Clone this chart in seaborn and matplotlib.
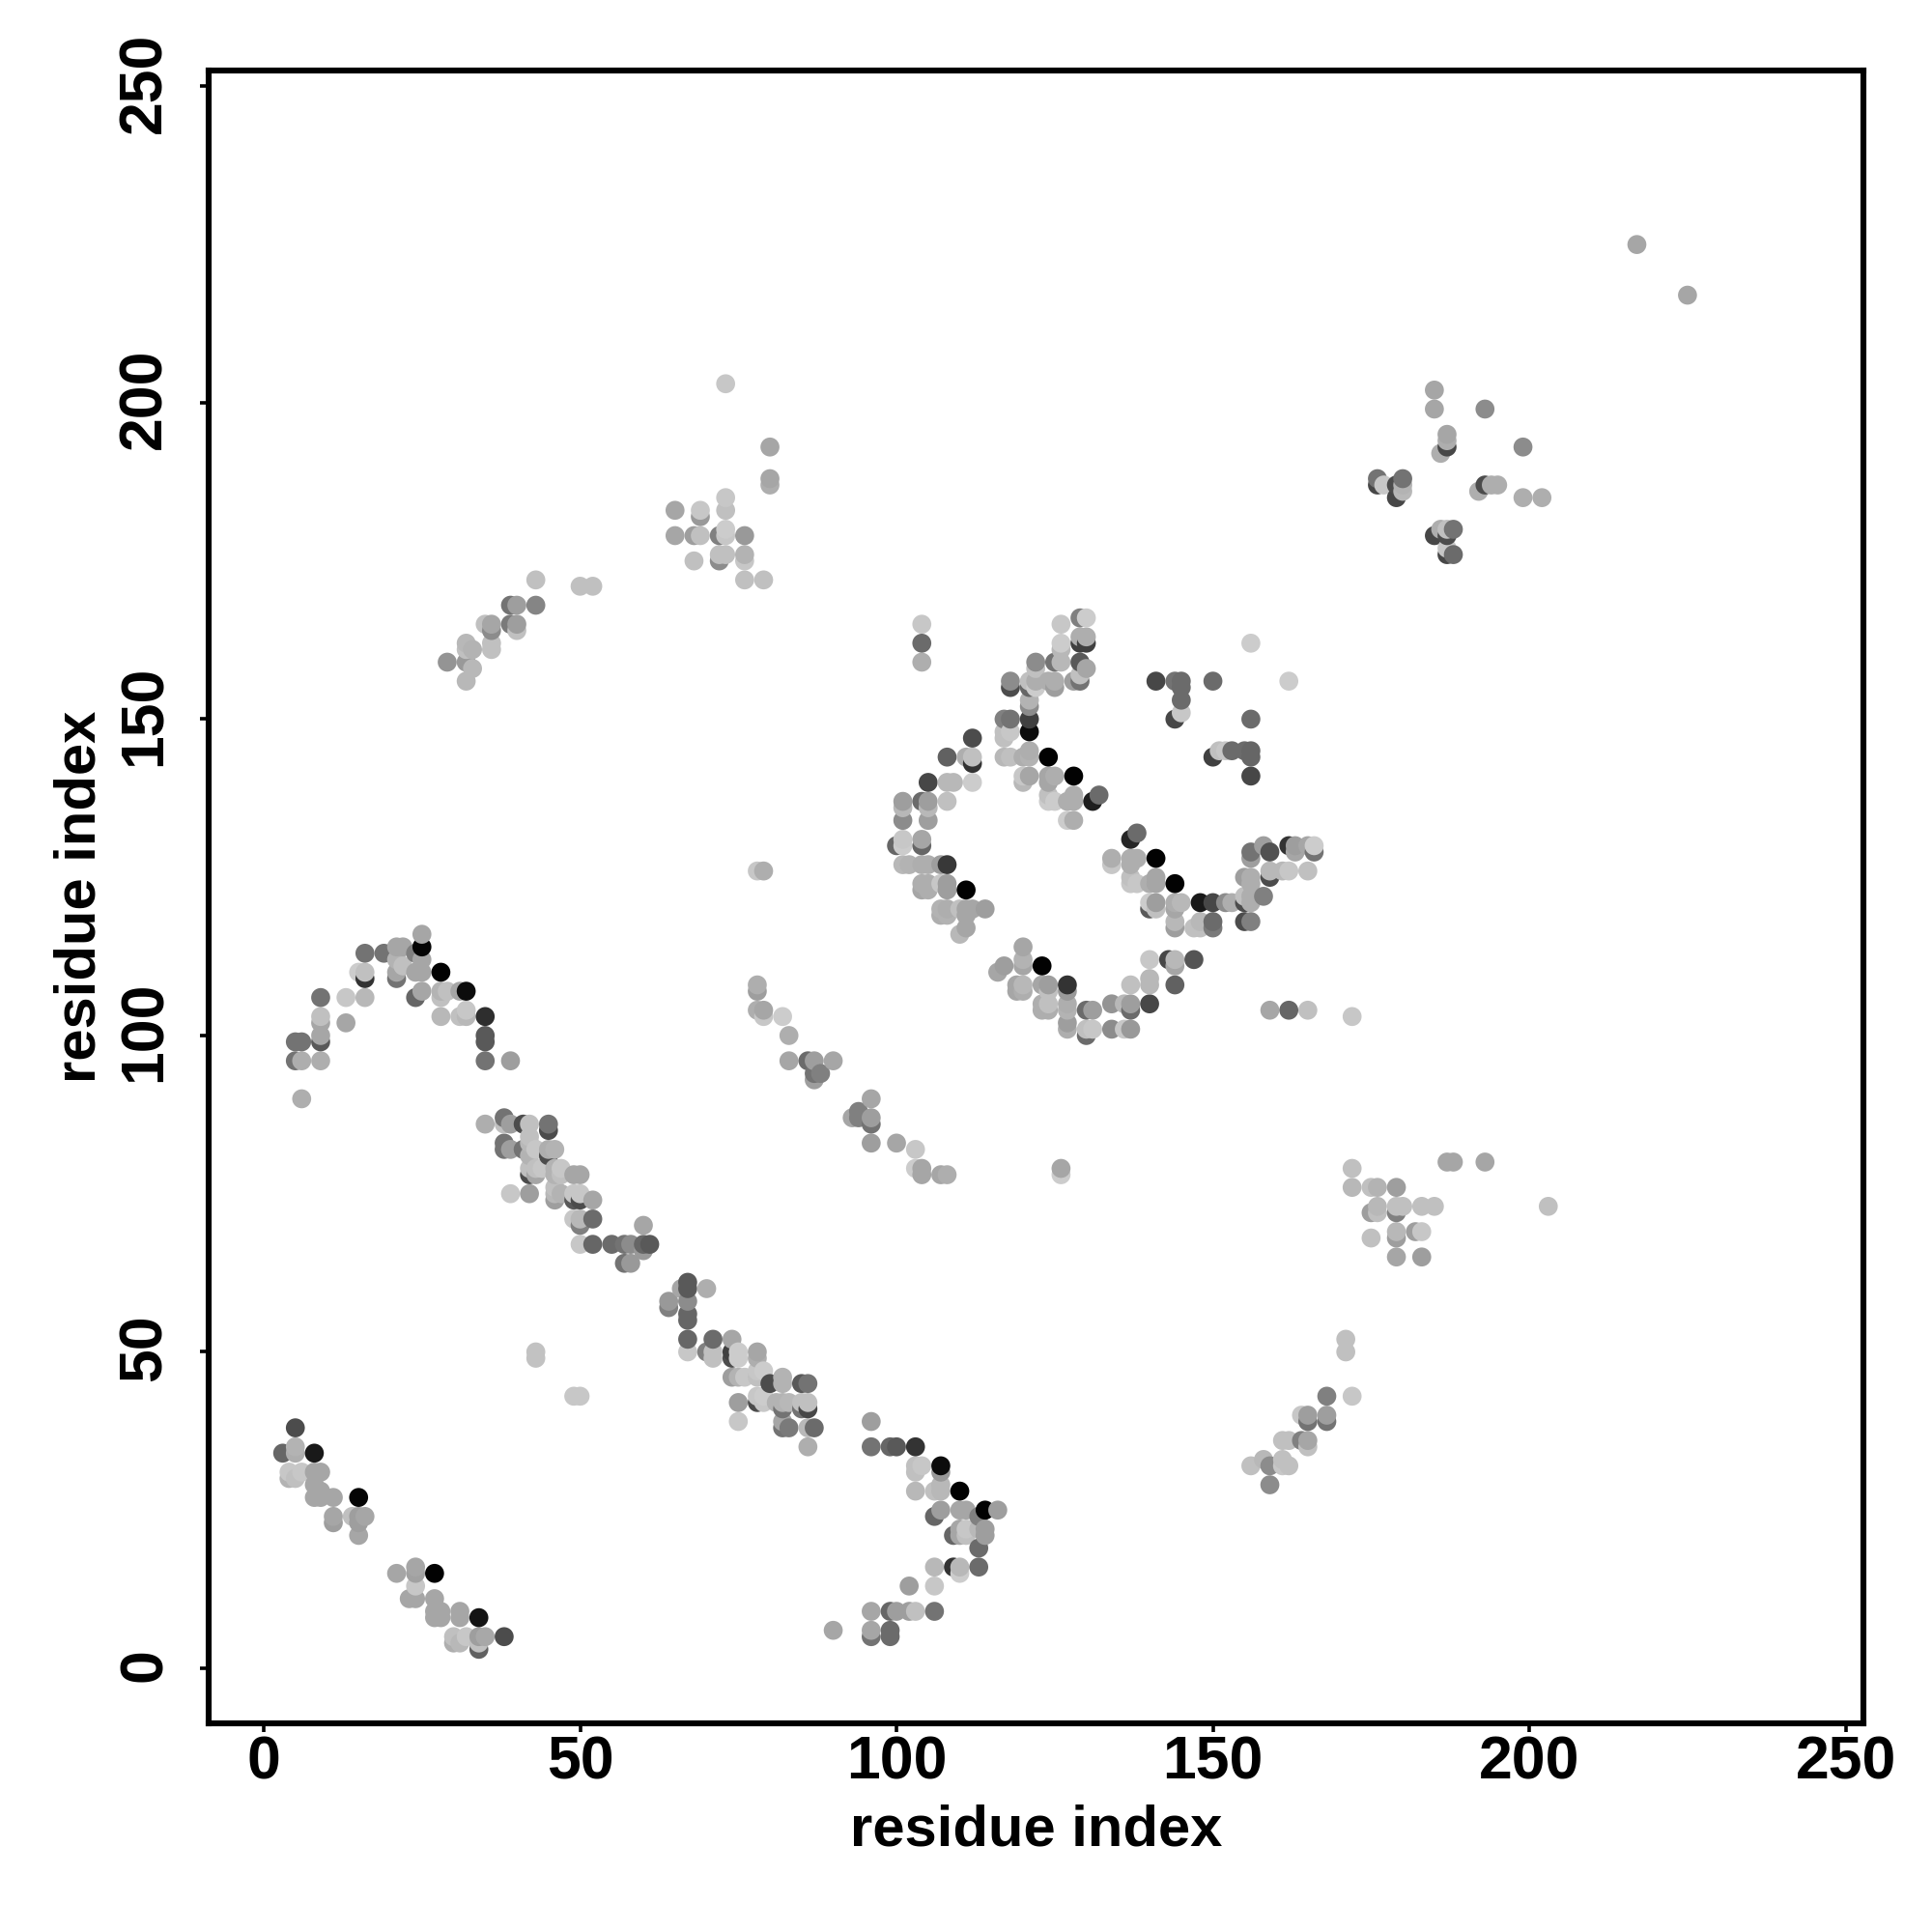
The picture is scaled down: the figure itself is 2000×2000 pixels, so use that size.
import matplotlib.pyplot as plt
from matplotlib.transforms import ScaledTranslation
import pandas as pd
import seaborn as sns

# contacts: (residue i, residue j, shade)
block_low_left = [
    (5,38,.3),(3,34,.4),(5,35,.7),(5,34,.68),(8,34,.1),(4,31,.78),(6,31,.78),(4,30,.7),(5,30,.75),
    (8,31,.65),(9,31,.65),(8,29,.65),(9,28,.65),(8,27,.65),(9,27,.65),(11,27,.65),(15,27,.02),
    (11,24,.65),(11,23,.62),(14,24,.75),(15,24,.62),(16,24,.65),(15,23,.62),(15,21,.65),
    (21,15,.65),(24,16,.65),(24,15,.63),(27,15,.01),(24,13,.78),(23,11,.65),(24,11,.65),
    (27,11,.65),(27,9,.65),(28,9,.65),(27,8,.65),(28,8,.65),(31,9,.65),(31,8,.65),(34,8,.08),
    (30,5,.75),(30,4,.68),(31,4,.72),(32,5,.78),(34,5,.62),(35,5,.66),(34,3,.38),(34,4,.75),(38,5,.3),
    (43,50,.76),(43,49,.76),(49,43,.78),(50,43,.78),
]
arc_left = [
    (25,116,.65),(25,114,.02),(16,113,.45),(19,113,.45),(21,114,.65),(22,114,.65),(24,113,.5),
    (15,110,.8),(16,110,.75),(16,109,.2),(21,109,.45),(21,110,.65),(22,111,.75),(21,112,.7),
    (25,110,.65),(24,110,.65),(25,112,.65),(28,110,.01),(32,107,.05),(31,107,.65),(28,107,.7),
    (29,107,.75),(28,106,.75),(25,107,.65),(24,106,.4),(9,106,.45),(13,106,.78),(16,106,.72),
    (9,103,.75),(28,103,.72),(31,103,.75),(32,104,.78),(32,103,.72),(35,103,.18),(9,102,.65),
    (13,102,.65),(9,100,.65),(9,99,.35),(35,100,.35),(35,99,.35),(5,99,.45),(6,99,.45),
    (5,96,.45),(6,96,.68),(9,96,.68),(35,96,.45),(39,96,.62),(6,90,.68),
]
diagonal_a = [
    (35,86,.68),(38,87,.45),(39,86,.62),(38,86,.75),(41,86,.3),(42,86,.75),(45,86,.45),(45,85,.3),
    (42,84,.75),(38,83,.45),(38,82,.45),(39,82,.62),(41,82,.45),(42,83,.72),(42,81,.7),(43,82,.78),
    (46,82,.7),(45,81,.3),(45,82,.68),(42,78,.3),(42,79,.75),(43,79,.75),(43,78,.65),(44,79,.78),
    (46,79,.7),(47,79,.78),(47,78,.75),(46,78,.7),(49,78,.65),(50,78,.65),(39,75,.78),(42,75,.62),
    (46,74,.62),(46,75,.72),(47,75,.7),(46,76,.75),(49,75,.78),(50,75,.78),(49,74,.35),(50,74,.3),
    (52,74,.65),(49,71,.78),(50,71,.72),(50,70,.5),(52,71,.42),(50,67,.78),(52,67,.4),(55,67,.42),
    (57,67,.45),(58,67,.55),(60,67,.4),(61,67,.35),(60,70,.65),(60,66,.6),(57,64,.45),(58,64,.6),
]
diagonal_b = [
    (67,61,.35),(67,60,.35),(66,60,.65),(70,60,.68),(64,58,.6),(64,57,.5),(67,58,.55),(67,56,.4),
    (67,55,.4),(67,52,.4),(71,52,.42),(74,52,.65),(67,50,.78),(70,50,.5),(71,50,.75),(71,49,.75),
    (74,50,.25),(75,50,.8),(75,49,.8),(74,49,.3),(78,50,.65),(78,49,.68),(74,46,.62),(75,46,.7),
    (76,46,.78),(78,47,.78),(79,47,.8),(78,46,.75),(82,46,.7),(82,45,.7),(80,45,.3),(85,45,.35),
    (86,45,.45),(75,42,.62),(78,42,.3),(79,42,.78),(78,43,.78),(79,43,.8),(81,42,.7),(82,42,.7),
    (83,42,.72),(85,42,.75),(86,42,.75),(86,41,.28),(85,41,.45),(82,41,.45),(75,39,.78),(82,39,.65),
    (82,38,.45),(83,38,.48),(86,38,.72),(87,38,.42),(86,35,.68),
]
arc_bottom = [
    (96,39,.62),(96,35,.45),(99,35,.4),(100,35,.35),(103,35,.2),(103,32,.75),(104,32,.78),(103,31,.75),
    (107,32,.05),(107,31,.6),(103,28,.72),(106,28,.75),(107,28,.72),(107,29,.72),(110,28,.01),
    (107,25,.62),(106,24,.4),(110,25,.65),(111,25,.65),(113,24,.5),(114,25,.01),(116,25,.62),
    (109,21,.4),(110,21,.65),(110,22,.65),(111,22,.78),(111,21,.75),(113,22,.72),(114,22,.62),
    (114,21,.62),(113,19,.42),(106,16,.72),(109,16,.2),(110,16,.72),(110,15,.8),(113,16,.42),
    (102,13,.62),(106,13,.78),(96,9,.65),(99,9,.4),(100,9,.62),(102,9,.62),(103,9,.75),(106,9,.45),
    (90,6,.65),(96,6,.65),(96,5,.45),(99,6,.42),(99,5,.42),
]
core_upper = [
    (104,165,.78),(104,162,.42),(104,159,.68),(126,165,.78),(129,166,.5),(130,166,.8),(129,163,.68),
    (130,163,.68),(129,162,.25),(130,162,.25),(126,162,.8),(126,161,.72),(126,159,.72),(125,159,.45),
    (122,159,.55),(122,158,.75),(129,159,.35),(130,158,.65),(129,157,.75),(118,156,.55),(118,155,.3),
    (121,156,.75),(122,156,.68),(124,156,.68),(125,156,.68),(125,155,.62),(121,155,.4),(122,155,.8),
    (128,156,.62),(129,156,.45),(121,153,.7),(121,152,.55),(121,150,.25),(121,148,.05),(117,150,.5),
    (118,150,.45),(117,148,.75),(118,148,.78),(117,147,.75),(112,147,.3),(112,143,.2),(112,144,.75),
    (111,144,.68),(108,144,.38),(117,144,.72),(118,144,.75),(120,144,.68),(121,144,.7),(121,145,.68),
    (124,144,.01),(105,140,.28),(108,140,.72),(109,140,.72),(112,140,.8),(120,141,.78),(121,141,.65),
    (120,140,.72),(124,141,.65),(125,141,.68),(124,140,.65),(128,141,.01),(105,137,.62),(104,137,.42),
    (101,137,.62),(108,137,.75),(124,137,.8),(125,137,.8),(124,138,.75),(127,137,.68),(128,138,.68),
    (128,137,.68),(131,137,.12),(132,138,.42),(101,136,.72),(105,136,.72),(101,134,.55),(105,134,.62),
    (127,134,.8),(128,134,.68),
]
core_middle = [
    (100,130,.4),(101,131,.78),(101,130,.8),(104,131,.65),(104,130,.4),(101,127,.72),(102,127,.7),
    (104,127,.68),(105,127,.68),(107,127,.62),(108,127,.22),(104,124,.68),(105,124,.68),(107,124,.78),
    (108,124,.62),(104,123,.65),(105,123,.68),(108,123,.62),(111,123,.01),(107,120,.7),(108,120,.68),
    (110,120,.75),(111,120,.65),(112,120,.65),(114,120,.62),(107,119,.68),(108,119,.7),(111,119,.65),
    (111,117,.65),(110,116,.72),(137,131,.15),(138,132,.42),(134,128,.68),(134,127,.78),(137,128,.68),
    (138,128,.68),(137,127,.68),(141,128,.01),(137,124,.78),(138,124,.78),(137,125,.75),(140,124,.68),
    (141,124,.65),(141,125,.65),(144,124,.01),(140,121,.8),(141,121,.62),(140,120,.35),(141,120,.75),
    (144,121,.68),(145,121,.72),(144,120,.65),(148,121,.1),(150,121,.28),(152,121,.55),(153,121,.68),
    (144,118,.72),(144,117,.62),(147,117,.75),(148,118,.72),(148,117,.75),(150,118,.42),(150,117,.48),
    (155,118,.3),(156,118,.5),(155,121,.3),(155,122,.75),(156,122,.68),(156,121,.68),(158,122,.5),
    (155,125,.62),(156,125,.68),(156,124,.68),(159,126,.72),(159,125,.3),(161,126,.72),(162,126,.78),
    (165,126,.75),(156,129,.45),(156,128,.62),(158,130,.62),(159,129,.32),(162,130,.2),(163,130,.62),
    (163,129,.65),(165,130,.65),(166,130,.8),(166,129,.45),
]
core_side = [
    (141,156,.28),(144,156,.45),(145,156,.42),(145,155,.42),(145,153,.42),(145,151,.78),(144,150,.28),
    (150,156,.42),(156,162,.8),(162,156,.8),(156,150,.42),(150,144,.25),(151,145,.75),(152,145,.78),
    (153,145,.42),(155,145,.42),(156,145,.4),(156,144,.4),(156,141,.28),
]
core_lower = [
    (120,114,.65),(117,111,.62),(120,112,.7),(120,111,.65),(116,110,.65),(123,111,.01),(119,108,.65),
    (120,108,.72),(119,107,.65),(120,107,.68),(123,108,.65),(124,108,.62),(124,107,.75),(127,108,.2),
    (127,107,.6),(123,104,.68),(124,104,.68),(123,105,.68),(124,105,.75),(127,105,.68),(127,104,.7),
    (127,102,.62),(127,101,.68),(130,104,.42),(131,104,.62),(130,100,.42),(130,101,.75),(131,101,.78),
    (134,105,.58),(136,105,.72),(137,105,.62),(137,104,.42),(134,101,.55),(136,101,.78),(137,101,.6),
    (140,105,.28),(137,108,.75),(140,108,.72),(140,109,.72),(140,112,.78),(143,112,.28),(144,112,.72),
    (144,111,.65),(147,112,.33),(144,108,.38),(159,104,.65),(162,104,.4),(165,104,.75),(172,103,.78),
]
upper_left = [
    (73,203,.78),(80,193,.65),(80,188,.65),(80,187,.68),(65,183,.65),(69,183,.78),(69,182,.6),
    (73,185,.78),(73,183,.75),(65,179,.65),(68,179,.62),(69,179,.75),(72,179,.5),(73,180,.8),
    (73,179,.78),(76,179,.6),(72,175,.55),(72,176,.75),(73,176,.75),(76,176,.7),(76,175,.78),
    (68,175,.75),(76,172,.75),(79,172,.75),(43,172,.75),(50,171,.75),(52,171,.75),(39,168,.45),
    (40,168,.62),(43,168,.52),(39,165,.48),(40,165,.62),(40,164,.75),(35,165,.75),(36,165,.65),
    (36,164,.55),(32,162,.72),(32,161,.75),(33,161,.7),(36,162,.75),(36,161,.75),(29,159,.58),
    (32,159,.6),(33,158,.72),(32,156,.72),
]
upper_right = [
    (185,202,.65),(185,199,.65),(193,199,.55),(187,195,.65),(187,194,.68),(187,193,.28),(186,192,.68),
    (199,193,.55),(176,188,.45),(176,187,.28),(177,187,.78),(180,188,.45),(179,187,.3),(180,187,.7),
    (180,186,.72),(179,185,.28),(193,187,.3),(194,187,.68),(195,187,.68),(192,186,.68),(199,185,.68),
    (202,185,.68),(185,179,.28),(186,180,.68),(187,180,.75),(188,180,.45),(187,179,.3),(187,177,.78),
    (187,176,.28),(188,176,.42),(217,225,.65),(225,217,.65),
]
middle_diagonal = [
    (78,126,.78),(79,126,.68),(78,108,.68),(78,107,.62),(78,104,.68),(79,104,.65),(79,103,.78),
    (82,103,.8),(83,100,.68),(83,96,.65),(86,96,.42),(87,96,.62),(90,96,.65),(87,94,.45),(88,94,.5),
    (87,93,.62),(96,90,.65),(93,87,.65),(94,88,.5),(94,87,.5),(96,87,.62),(96,86,.45),(96,83,.62),
    (100,83,.65),(103,82,.78),(103,79,.8),(104,79,.65),(104,78,.65),(107,78,.65),(108,78,.68),
    (126,79,.65),(126,78,.8),
]
lower_right = [
    (172,79,.75),(172,76,.72),(175,76,.75),(176,76,.7),(179,76,.62),(176,73,.72),(175,72,.62),
    (176,72,.75),(179,73,.75),(180,73,.75),(179,72,.5),(183,73,.75),(185,73,.75),(179,69,.72),
    (179,68,.62),(182,69,.62),(183,69,.78),(175,68,.75),(179,65,.65),(183,65,.62),(187,80,.65),
    (188,80,.65),(193,80,.65),(203,73,.75),(171,52,.75),(171,50,.75),(168,43,.5),(172,43,.78),
    (164,40,.78),(165,40,.62),(168,40,.62),(165,39,.45),(168,39,.45),(161,36,.75),(162,36,.75),
    (164,36,.5),(165,36,.65),(165,35,.75),(158,33,.72),(156,32,.75),(159,32,.55),(161,33,.75),
    (161,32,.78),(162,32,.75),(159,29,.55),
]

axis_ticks = [0, 50, 100, 150, 200, 250]

sns.set_theme(style='white')
plt.rcParams['font.family'] = ['Liberation Sans', 'DejaVu Sans']
plt.rcParams['font.weight'] = 'bold'

contacts = pd.DataFrame(
    block_low_left + arc_left + diagonal_a + diagonal_b + arc_bottom + core_upper + core_middle
    + core_side + core_lower + upper_left + upper_right + middle_diagonal + lower_right,
    columns=['i', 'j', 'shade'],
).sort_values(['i', 'j'])

fig = plt.figure(figsize=(10, 10), dpi=200)
ax = fig.add_axes([0.108, 0.108, 0.8565, 0.8555])

sns.scatterplot(data=contacts, x='i', y='j', hue='shade', palette='gray', hue_norm=(0, 1),
                s=50, linewidth=0, legend=False, ax=ax, clip_on=False)

ax.set_xlim(-8.7, 252.8)
ax.set_ylim(-8.7, 252.5)
ax.set_xticks(axis_ticks)
ax.set_yticks(axis_ticks)
ax.tick_params(axis='both', bottom=True, left=True, length=3.1, width=1.3, color='black',
               labelsize=22.5, labelcolor='black')
ax.tick_params(axis='x', pad=1)
ax.tick_params(axis='y', pad=10)
plt.setp(ax.get_yticklabels(), rotation=90, va='center')

# rotated labels sit a little low, nudge them back onto the ticks
nudge = ScaledTranslation(0, 0.019, fig.dpi_scale_trans)
for label in ax.get_yticklabels():
    label.set_transform(label.get_transform() + nudge)

for side in ax.spines.values():
    side.set_linewidth(2.2)
    side.set_color('black')

ax.set_xlabel('residue index', fontsize=21.5, fontweight='bold', color='black')
ax.set_ylabel('residue index', fontsize=21.5, fontweight='bold', color='black')
ax.xaxis.set_label_coords(0.5, -0.049)
ax.yaxis.set_label_coords(-0.0615, 0.5)

fig.savefig('out.png', dpi=200, facecolor='white')
plt.close(fig)
